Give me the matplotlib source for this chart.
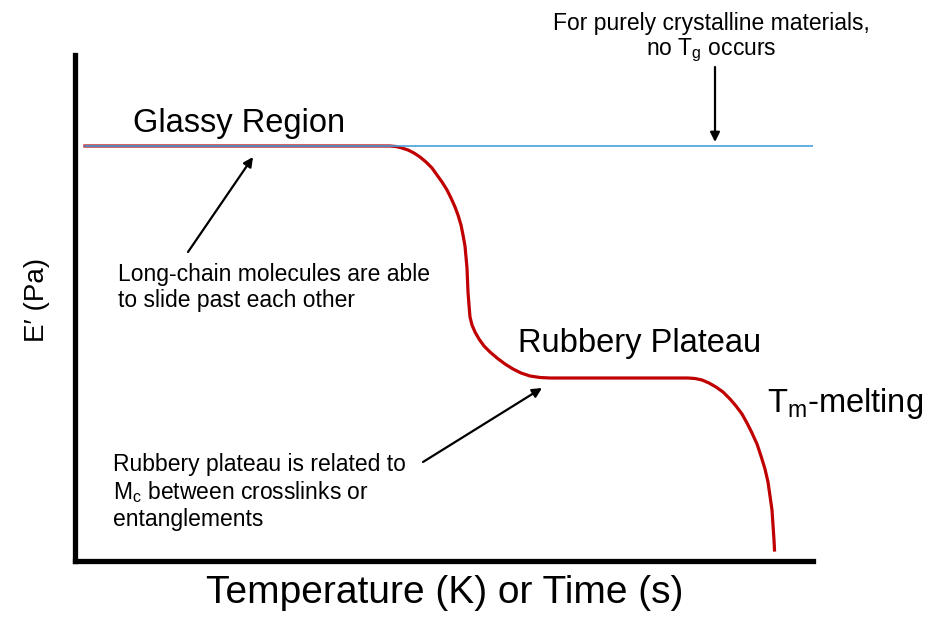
import matplotlib
matplotlib.use("Agg")
import matplotlib.pyplot as plt

plt.rcParams['font.family'] = ['Liberation Sans', 'DejaVu Sans']
plt.rcParams['mathtext.fontset'] = 'custom'
plt.rcParams['mathtext.rm'] = 'Liberation Sans'

# ================= Data (arbitrary units) =================
temp = [10, 315, 321, 327, 333, 339, 345, 351, 357, 362, 367, 372, 376, 380,
        383, 386, 388, 390, 391, 392, 392.5, 393, 394, 395, 397, 400, 404, 409,
        415, 422, 430, 438, 446, 455, 465, 475,
        613, 620, 627, 634, 641, 648, 655, 661, 667, 672, 677, 682, 686, 690,
        693, 695, 697, 698, 699, 699.5]
modulus = [415, 415, 414.5, 413, 411, 408, 404, 399, 393, 386, 379, 371, 363, 354,
           346, 336, 326, 315, 304, 293, 281, 269, 256, 244, 236, 229, 222, 215,
           209, 203, 197, 192, 188, 185, 183.5, 183,
           183, 182.5, 181, 178, 174, 169, 162, 155, 147, 138, 128, 117, 105, 92,
           79, 65, 51, 36, 21, 11]

crystal_temp = [10, 738]
crystal_modulus = [415, 415]

RED = '#c00000'
BLUE = '#4a9fdc'
SMALL = 16.5
BIG = 23.5

fig = plt.figure(figsize=(9.35, 6.26), dpi=100)
ax = fig.add_axes([75 / 935, 1 - 561 / 626, 738 / 935, 506 / 626])

ax.plot(temp, modulus, color=RED, lw=2.3, solid_joinstyle='round', zorder=2)
ax.plot(crystal_temp, crystal_modulus, color=BLUE, lw=1.2, zorder=3)

ax.set_xlim(0, 738)
ax.set_ylim(0, 506)
ax.set_xticks([])
ax.set_yticks([])
for side in ['top', 'right']:
    ax.spines[side].set_visible(False)
for side in ['left', 'bottom']:
    ax.spines[side].set_linewidth(3.8)
    ax.spines[side].set_capstyle('projecting')

# region labels
ax.text(58, 429, "Glassy Region", fontsize=BIG, ha='left', va='baseline')
ax.text(443, 209, "Rubbery Plateau", fontsize=BIG, ha='left', va='baseline')
ax.text(692, 149, r"T$_\mathregular{m}$-melting", fontsize=BIG, ha='left', va='baseline')

# notes + arrows
arrow = dict(arrowstyle='-|>', color='black', lw=1.6, mutation_scale=14,
             shrinkA=0, shrinkB=0)

ax.text(636, 549, "For purely crystalline materials,\n" r"no T$_\mathregular{g}$ occurs",
        fontsize=SMALL, ha='center', va='top', linespacing=1.1)
ax.annotate("", xy=(640, 419), xytext=(640, 494), arrowprops=arrow)

ax.text(43, 298, "Long-chain molecules are able\nto slide past each other",
        fontsize=SMALL, ha='left', va='top', linespacing=1.15)
ax.annotate("", xy=(178, 404), xytext=(113, 309), arrowprops=arrow)

ax.text(38, 108, "Rubbery plateau is related to\n"
        r"M$_\mathregular{c}$ between crosslinks or" "\nentanglements",
        fontsize=SMALL, ha='left', va='top', linespacing=1.15)
ax.annotate("", xy=(467, 173), xytext=(348, 99), arrowprops=arrow)

# axis titles
fig.text(445 / 935, 1 - 593 / 626, "Temperature (K) or Time (s)", fontsize=28,
         ha='center', va='center')
fig.text(37 / 935, 1 - 300 / 626, "E\u2032 (Pa)", fontsize=20, rotation=90,
         ha='center', va='center')

fig.savefig("out.png", dpi=100)
